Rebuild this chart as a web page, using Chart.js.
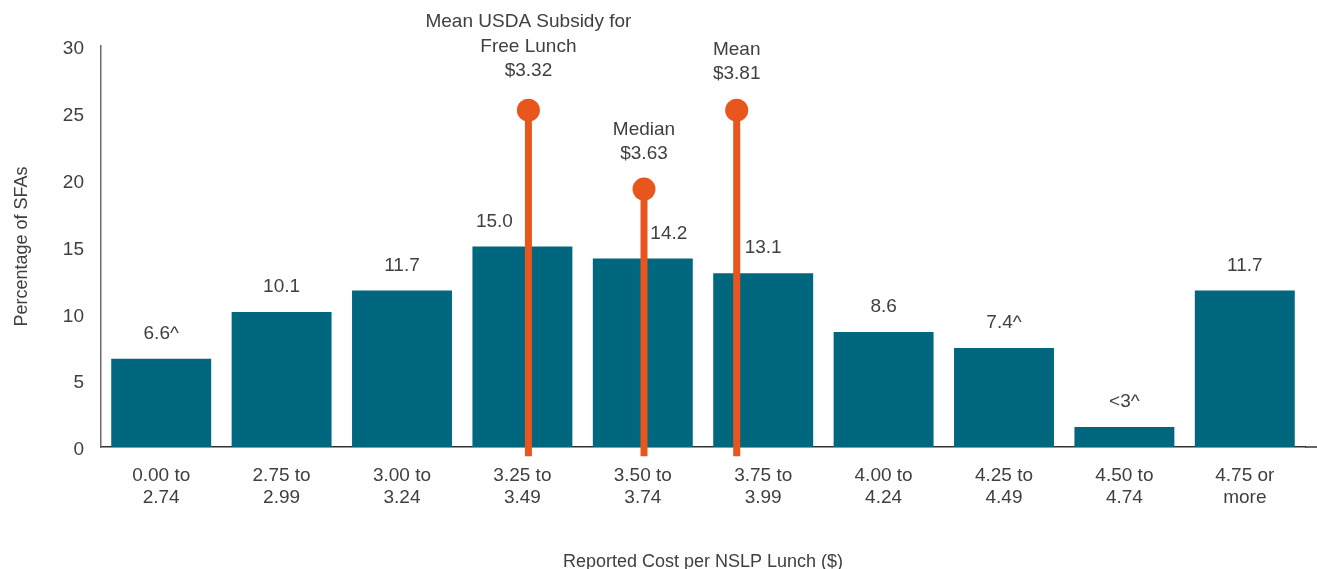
<!DOCTYPE html>
<html>
<head>
<meta charset="utf-8">
<script src="https://cdn.jsdelivr.net/npm/chart.js@4"></script>
<style>
  html, body { margin: 0; padding: 0; background: #fff; }
  #wrap { width: 1317px; height: 569px; position: relative; }
</style>
</head>
<body>
<div id="wrap"><canvas id="c"></canvas></div>
<script>
const categories = [
  ["0.00 to", "2.74"], ["2.75 to", "2.99"], ["3.00 to", "3.24"], ["3.25 to", "3.49"],
  ["3.50 to", "3.74"], ["3.75 to", "3.99"], ["4.00 to", "4.24"], ["4.25 to", "4.49"],
  ["4.50 to", "4.74"], ["4.75 or", "more"]
];
const percentages = [6.6, 10.1, 11.7, 15.0, 14.1, 13.0, 8.6, 7.4, 1.5, 11.7];
const valueLabels = ["6.6^", "10.1", "11.7", "15.0", "14.2", "13.1", "8.6", "7.4^", "<3^", "11.7"];
const yTicks = [0, 5, 10, 15, 20, 25, 30];
const markerLabels = [["Mean USDA Subsidy for", "Free Lunch", "$3.32"], ["Median", "$3.63"], ["Mean", "$3.81"]];
const markerCategoryPos = [3.05, 4.01, 4.78];
const markerTop = [25.2, 19.3, 25.2];
const markerBottom = -0.7;

const TEXT = '#404040';
const FONT = '"Liberation Sans", Arial, sans-serif';
const BAR = '#00677F';
const ORANGE = '#E8561E';
const labelShift = [0, 0, 0, -28, 26, 0, 0, 0, 0, 0];
const markerLabelGap = [39, 35, 36];

const markerDatasets = markerCategoryPos.map((p, i) => ({
  type: 'line',
  xAxisID: 'x2',
  data: [{ x: p, y: markerTop[i] }, { x: p, y: markerBottom }],
  borderColor: ORANGE,
  backgroundColor: ORANGE,
  borderWidth: 7,
  borderCapStyle: 'butt',
  pointRadius: [11.5, 0],
  pointBorderWidth: 0,
  pointHoverRadius: [11.5, 0],
  clip: false,
  order: 1
}));

const overlay = {
  id: 'overlay',
  afterDatasetsDraw(chart) {
    const ctx = chart.ctx;
    const ys = chart.scales.y;
    const x2 = chart.scales.x2;
    const meta = chart.getDatasetMeta(0);
    ctx.save();
    ctx.strokeStyle = '#333';
    ctx.lineWidth = 1.5;
    ctx.beginPath();
    const y0 = ys.getPixelForValue(0);
    ctx.moveTo(chart.chartArea.right, y0);
    ctx.lineTo(chart.width, y0);
    ctx.stroke();

    ctx.fillStyle = TEXT;
    ctx.font = '19px ' + FONT;
    ctx.textAlign = 'center';
    ctx.textBaseline = 'middle';
    meta.data.forEach((bar, i) => {
      ctx.fillText(valueLabels[i], bar.x + labelShift[i], bar.y - 25);
    });
    markerLabels.forEach((lines, i) => {
      const x = x2.getPixelForValue(markerCategoryPos[i]);
      const yTop = ys.getPixelForValue(markerTop[i]);
      const n = lines.length;
      lines.forEach((t, j) => {
        ctx.fillText(t, x, yTop - markerLabelGap[i] - (n - 1 - j) * 24.5);
      });
    });
    ctx.restore();
  }
};

new Chart(document.getElementById('c'), {
  type: 'bar',
  data: {
    labels: categories,
    datasets: [{
      data: percentages,
      backgroundColor: BAR,
      barPercentage: 0.83,
      categoryPercentage: 1.0,
      grouped: false,
      order: 2
    }, ...markerDatasets]
  },
  options: {
    responsive: true,
    maintainAspectRatio: false,
    animation: false,
    layout: { padding: { top: 46, right: 12, left: 0, bottom: 0 } },
    plugins: { legend: { display: false }, tooltip: { enabled: false } },
    scales: {
      x: {
        type: 'category',
        offset: true,
        grid: { display: false, drawTicks: false },
        border: { display: true, color: '#333', width: 1.5 },
        ticks: { color: TEXT, font: { family: FONT, size: 19, lineHeight: 1.2 }, padding: 17, maxRotation: 0, autoSkip: false },
        title: { display: true, text: 'Reported Cost per NSLP Lunch ($)', color: TEXT, font: { family: FONT, size: 18 }, padding: { top: 0, bottom: -4 } },
        afterFit(s) { s.height = 122; }
      },
      x2: {
        type: 'linear',
        display: false,
        offset: false,
        min: -0.5,
        max: 9.5
      },
      y: {
        min: 0,
        max: 30,
        afterBuildTicks(s) { s.ticks = yTicks.map(v => ({ value: v })); },
        grid: { display: false, drawTicks: false },
        border: { display: true, color: '#6b6b6b', width: 1.5 },
        ticks: { color: TEXT, font: { family: FONT, size: 19 }, padding: 17, labelOffset: 3 },
        title: { display: true, text: 'Percentage of SFAs', color: TEXT, font: { family: FONT, size: 18 }, padding: { top: 11, bottom: 0 } },
        afterFit(s) { s.width = 101; }
      }
    }
  },
  plugins: [overlay]
});
</script>
</body>
</html>
